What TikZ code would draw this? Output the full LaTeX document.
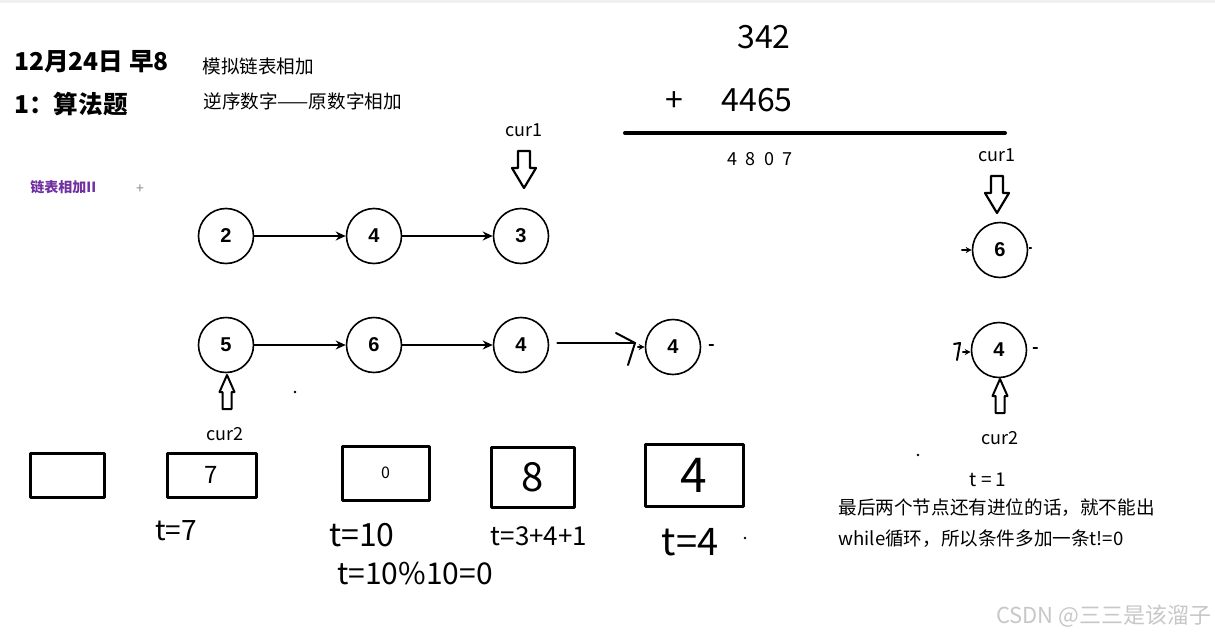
\documentclass[tikz,border=0pt]{standalone}
\usepackage{fontspec}
\setmainfont{Noto Sans CJK SC}
\setsansfont{Liberation Sans}
\usetikzlibrary{arrows.meta,calc}

\definecolor{linkpurple}{HTML}{7030A0}

\tikzset{
  num/.style={circle, draw, line width=0.8pt, minimum size=27.5pt, inner sep=0pt,
    font=\sffamily\bfseries\fontsize{10}{11}\selectfont},
  link/.style={line width=0.7pt, -{Stealth[length=5pt,width=4.5pt]}},
  stub/.style={line width=0.6pt, -{Stealth[length=3pt,width=3pt]}},
  box/.style={draw, line width=1.5pt, inner sep=0pt},
  hand/.style={line width=1pt},
  title/.style={anchor=west, inner sep=0pt, font=\bfseries\fontsize{12.3}{14}\selectfont},
  note/.style={anchor=west, inner sep=0pt, font=\fontsize{9.3}{11}\selectfont},
  big/.style={inner sep=0pt, font=\fontsize{16}{18}\selectfont},
  ptrlabel/.style={inner sep=0pt, font=\fontsize{9}{11}\selectfont},
  scrawl/.style={inner sep=0pt, font=\fontsize{#1}{#1}\selectfont},
  ptr down/.pic={\draw[line width=1.1pt, fill=white] (-6,0) -- (6,0) -- (6,17) -- (12,17)
    -- (0,37) -- (-12,17) -- (-6,17) -- cycle;},
  ptr up/.pic={\draw[line width=1pt, fill=white] (-4.5,0) -- (4.5,0) -- (4.5,-17) -- (7.5,-17)
    -- (0,-34) -- (-7.5,-17) -- (-4.5,-17) -- cycle;}
}

\begin{document}
\begin{tikzpicture}[x=0.5pt,y=-0.5pt,line cap=round,line join=round]
\useasboundingbox (0,0) rectangle (1215,637);
\fill[black!6] (0,0) rectangle (1215,3);

% ---- heading ----
\node[title] (date) at (14,62) {12月24日 早8};
\node[title] (topic) at (14,104) {1：算法题};
\node[note] (sim) at (202,66) {模拟链表相加};
\node[note] (rev) at (203,101) {逆序数字——原数字相加};
\node[anchor=west, inner sep=0pt, text=linkpurple, font=\bfseries\fontsize{7}{8}\selectfont] (tag) at (30,187) {链表相加II};
\node[inner sep=0pt, text=black!45, font=\fontsize{7}{8}\selectfont] (plus0) at (140,189) {+};

% ---- column sum ----
\node[big] (n1) at (764,37) {342};
\node[big] (plusop) at (674,102) {+};
\node[big] (n2) at (757,100) {4465};
\draw[line width=2pt] (625,133) -- (1005,133);
\node[inner sep=0pt, font=\fontsize{9}{11}\selectfont] (sum) at (760,159) {4\ \ 8\ \ 0\ \ 7};

% ---- the two lists ----
\node[num] (a1) at (226,236) {2};
\node[num] (a2) at (374,236) {4};
\node[num] (a3) at (521,236) {3};
\node[num] (b1) at (226,345) {5};
\node[num] (b2) at (374,345) {6};
\node[num] (b3) at (521,345) {4};
\node[num] (b4) at (673,347) {4};

\draw[link] (a1) -- (a2);
\draw[link] (a2) -- (a3);
\draw[link] (b1) -- (b2);
\draw[link] (b2) -- (b3);

% hand drawn arrow to the new node
\coordinate (hk) at (635,343);
\draw[hand] ($(b3.east)+(8,-2)$) -- (hk);
\draw[hand] ($(hk)+(-19,-10)$) -- (hk) -- ($(hk)+(-7,22)$);
\draw[stub] ($(b4.west)+(-7,0)$) -- (b4.west);
\draw[line width=0.7pt] ($(b4.east)+(8,-2)$) -- ($(b4.east)+(12,-2)$);

% ---- last nodes on the right ----
\node[num] (r1) at (1000,250) {6};
\node[num] (r2) at (999,350) {4};
\draw[stub] ($(r1.west)+(-10,0)$) -- (r1.west);
\draw[line width=0.6pt] ($(r1.east)+(1,-2)$) -- ($(r1.east)+(3,-2)$);
\draw[hand] (954,344) -- (960,343) -- (957,360);
\draw[stub] ($(r2.west)+(-8,2)$) -- ($(r2.west)+(0,2)$);
\draw[line width=0.7pt] ($(r2.east)+(6,-2)$) -- ($(r2.east)+(10,-2)$);

% ---- pointers ----
\node[ptrlabel] (c1) at (524,130) {cur1};
\pic at (524,151) {ptr down};
\node[ptrlabel] (c1r) at (997,155) {cur1};
\pic at (997,176) {ptr down};
\pic at (227,409) {ptr up};
\node[ptrlabel] (c2) at (225,434) {cur2};
\pic at (1000,413) {ptr up};
\node[ptrlabel] (c2r) at (1000,438) {cur2};

% ---- result boxes ----
\node[box, minimum width=37pt, minimum height=22pt] (s1) at (67,475) {};
\node[box, minimum width=44.5pt, minimum height=22pt, font=\fontsize{12}{12}\selectfont] (s2) at (211.5,475) {7};
\node[box, minimum width=43.5pt, minimum height=27pt, font=\fontsize{8}{8}\selectfont] (s3) at (385.5,473) {0};
\node[box, minimum width=41.5pt, minimum height=30pt, font=\fontsize{20}{20}\selectfont] (s4) at (532.5,477) {8};
\node[box, minimum width=49pt, minimum height=31pt, font=\fontsize{24}{24}\selectfont] (s5) at (694,475) {4};

\node[scrawl=14] (t1) at (176,531) {t=7};
\node[scrawl=16] (t2) at (362,535) {t=10};
\node[scrawl=15] (t3) at (415,573) {t=10\%10=0};
\node[scrawl=13] (t4) at (539,536) {t=3+4+1};
\node[scrawl=19] (t5) at (690,542) {t=4};

\fill (295,392) circle (1.3);
\fill (918,455) circle (1.3);
\fill (745,538) circle (1.3);

% ---- note on the right ----
\node[inner sep=0pt, font=\fontsize{9.5}{11}\selectfont] (t6) at (988,480) {t = 1};
\node[note] (w1) at (838,508) {最后两个节点还有进位的话，就不能出};
\node[note] (w2) at (838,539) {while循环，所以条件多加一条t!=0};
\node[anchor=east, inner sep=0pt, text=black!22, font=\fontsize{11}{13}\selectfont] (mark) at (1212,616) {CSDN @三三是该溜子};

\end{tikzpicture}
\end{document}
